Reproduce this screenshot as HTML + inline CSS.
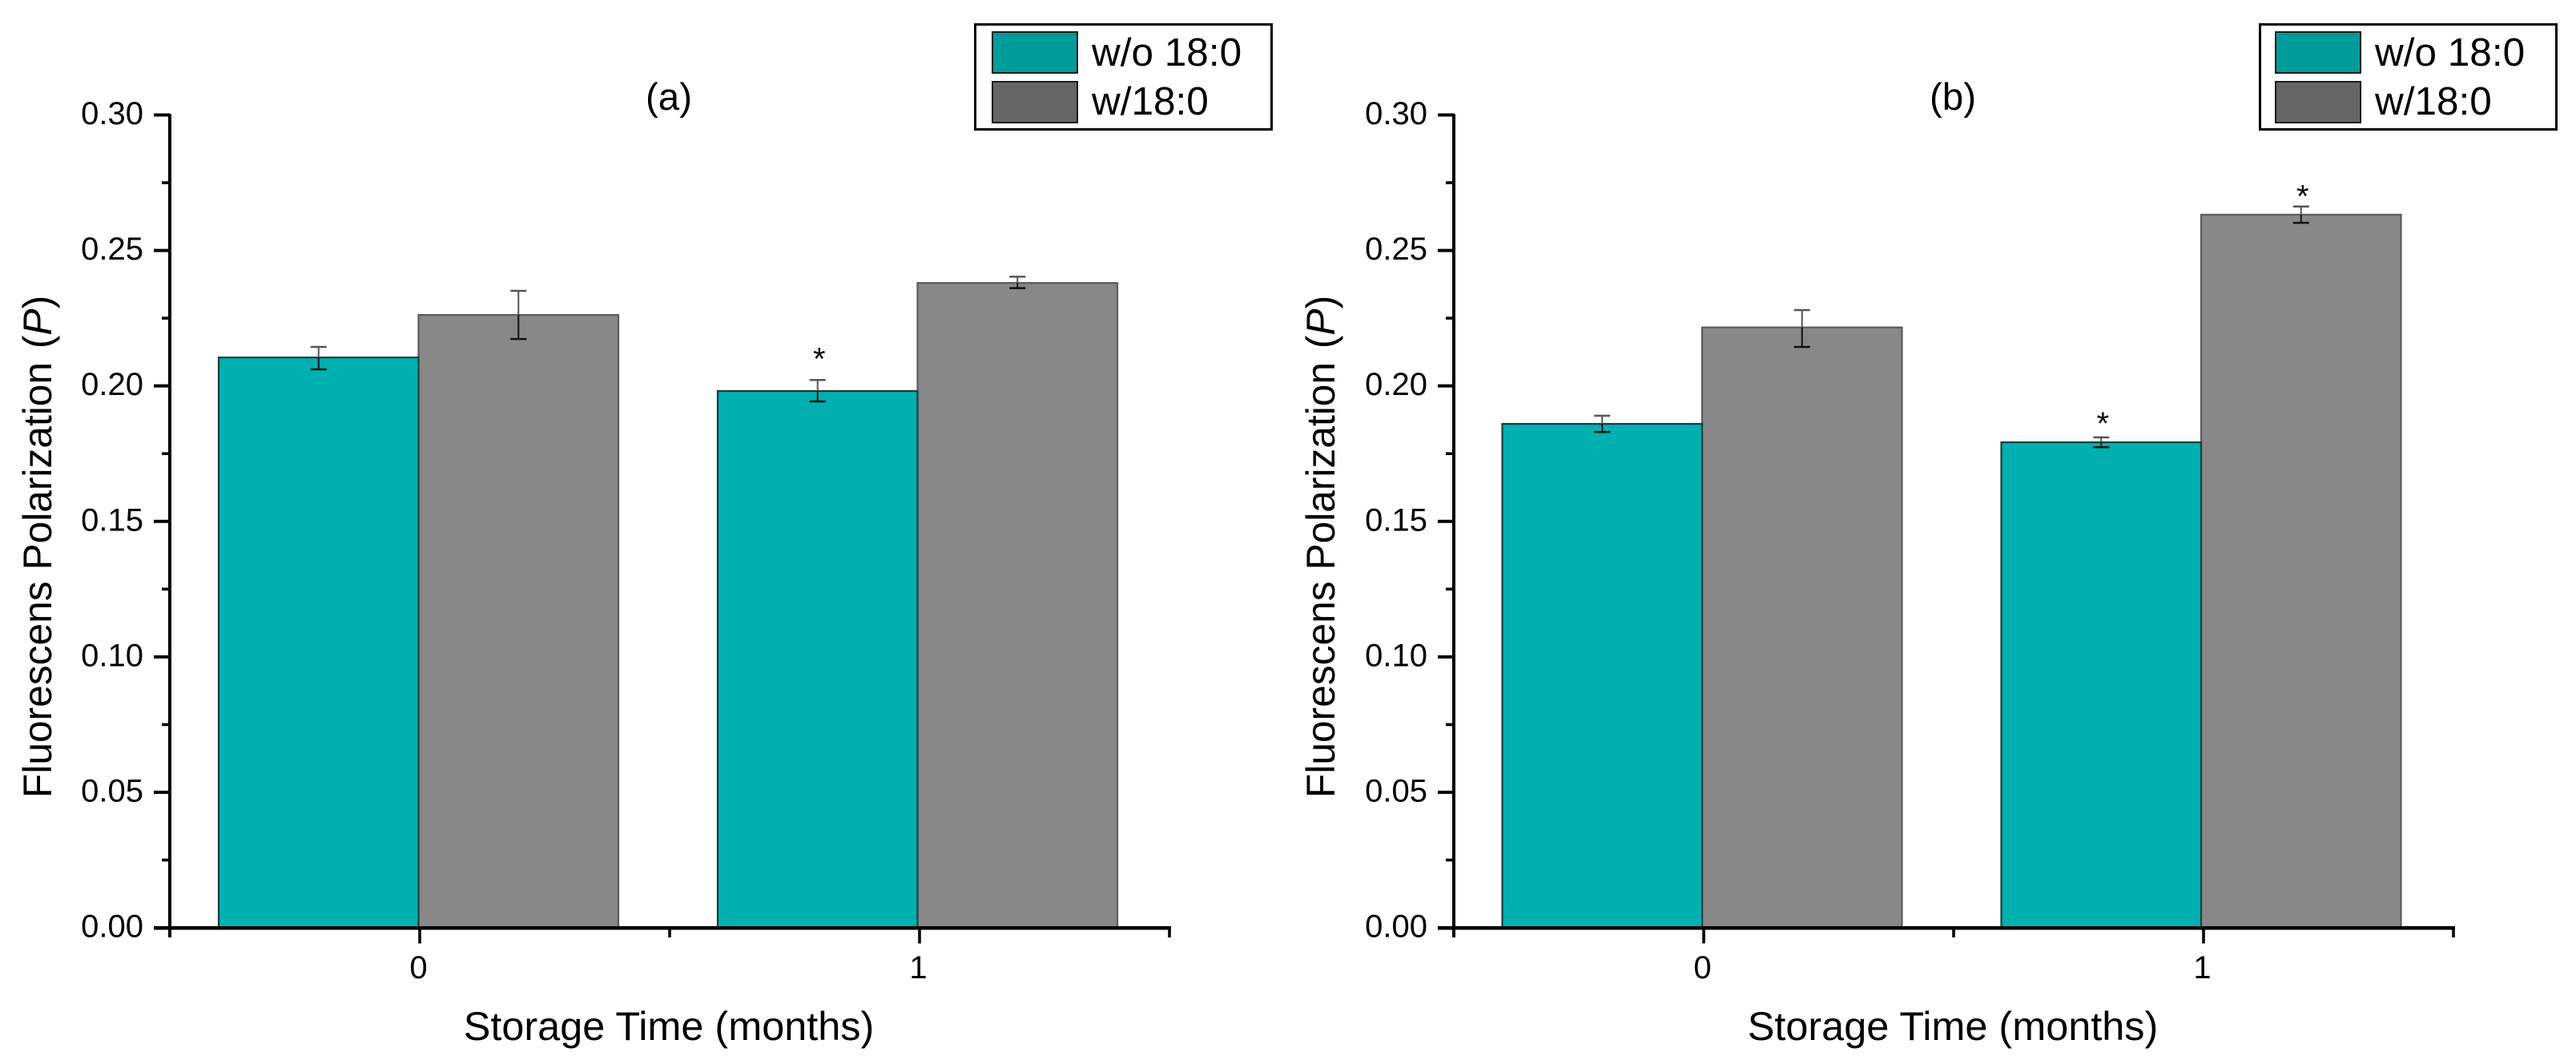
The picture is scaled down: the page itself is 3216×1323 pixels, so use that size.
<!DOCTYPE html>
<html lang="en">
<head>
<meta charset="utf-8">
<title>Fluorescence polarization charts</title>
<style>
html,body{margin:0;padding:0;background:#fff;width:3216px;height:1323px;overflow:hidden}
svg{display:block}
text{font-family:"Liberation Sans",Arial,sans-serif;fill:#000}
</style>
</head>
<body>
<svg id="figure" xmlns="http://www.w3.org/2000/svg" width="3216" height="1323" viewBox="0 0 3216 1323"></svg>
<script>
// Data
const categories = [0, 1];
const xTickLabels = ["0", "1"];
const xMinorTicks = [-0.5, 0.5, 1.5];
const yTickLabels = ["0.00", "0.05", "0.10", "0.15", "0.20", "0.25", "0.30"];
const yMinorTicks = [0.025, 0.075, 0.125, 0.175, 0.225, 0.275];
const seriesNames = ["w/o 18:0", "w/18:0"];

const panelATeal = [0.2105, 0.1981];
const panelATealErrHigh = [0.2144, 0.2022];
const panelATealErrLow = [0.2061, 0.1943];
const panelAGrey = [0.2262, 0.2380];
const panelAGreyErrHigh = [0.2351, 0.2403];
const panelAGreyErrLow = [0.2173, 0.2361];
const panelATealStars = [null, 0.2115];
const panelAGreyStars = [null, null];

const panelBTeal = [0.1860, 0.1792];
const panelBTealErrHigh = [0.1890, 0.1810];
const panelBTealErrLow = [0.1830, 0.1774];
const panelBGrey = [0.2216, 0.2632];
const panelBGreyErrHigh = [0.2280, 0.2662];
const panelBGreyErrLow = [0.2144, 0.2602];
const panelBTealStars = [null, 0.1877];
const panelBGreyStars = [null, 0.2714];

const NS = "http://www.w3.org/2000/svg";
const root = document.getElementById("figure");

function make(tag, attrs, parent, txt) {
  const el = document.createElementNS(NS, tag);
  for (const k in attrs) el.setAttribute(k, attrs[k]);
  if (txt !== undefined) el.textContent = txt;
  parent.appendChild(el);
  return el;
}

function drawPanel(p) {
  const g = make("g", {}, root);
  
  

  const yScale = v => 1158 - (v / 0.30) * 1014.5;
  const xScale = c => p.barCentre + c * 623;

  // bars (grey first so that the dark teal edge sits on the shared line)
  const series = [
    {key: 'without-18-0', vals: p.teal, hi: p.tealHi, lo: p.tealLo, stars: p.tealStars, off: -124.75, fill: '#00b0b0', stroke: '#14403f'},
    {key: 'with-18-0', vals: p.grey, hi: p.greyHi, lo: p.greyLo, stars: p.greyStars, off: 124.75, fill: '#888888', stroke: '#5c5c5c'}
  ];
  [series[1], series[0]].forEach(s => {
    categories.forEach((c, i) => {
      const top = yScale(s.vals[i]);
      const bar = make("rect", {x: xScale(c) + s.off - 124.75, y: top, width: 249.5, height: 1158 - top, fill: s.fill, stroke: s.stroke, "stroke-width": 2.2}, g);
      
      
    });
  });

  // error bars and significance stars
  series.forEach(s => {
    categories.forEach((c, i) => {
      const cx = xScale(c) + s.off;
      const eg = make("g", {}, g);
      
      
      const yH = yScale(s.hi[i]), yL = yScale(s.lo[i]), yV = yScale(s.vals[i]);
      make("line", {x1: cx, x2: cx, y1: yH, y2: yV, stroke: '#555', "stroke-width": 2}, eg);
      make("line", {x1: cx, x2: cx, y1: yV, y2: yL, stroke: '#111', "stroke-width": 2}, eg);
      make("line", {x1: cx - 10, x2: cx + 10, y1: yH, y2: yH, stroke: '#555', "stroke-width": 2.5}, eg);
      make("line", {x1: cx - 10, x2: cx + 10, y1: yL, y2: yL, stroke: '#111', "stroke-width": 2.5}, eg);
      if (s.stars[i] !== null) {
        const star = make("text", {x: cx + 2, y: yScale(s.stars[i]) + 18.5, "font-size": 40, "text-anchor": "middle"}, g, "*");
        
        
      }
    });
  });

  // y axis
  const yAxis = make("g", {}, g);
  
  
  make("line", {x1: p.axisX, x2: p.axisX, y1: 142, y2: 1170, stroke: '#000', "stroke-width": 4}, yAxis);
  yTickLabels.forEach(lbl => {
    const v = parseFloat(lbl), y = yScale(v);
    make("line", {x1: p.axisX - 20, x2: p.axisX, y1: y, y2: y, stroke: '#000', "stroke-width": 4}, yAxis);
    const t = make("text", {x: p.axisX - 33, y: y + 11.5, "font-size": 40, "text-anchor": "end"}, yAxis, lbl);
    
    
  });
  yMinorTicks.forEach(v => {
    const y = yScale(v);
    make("line", {x1: p.axisX - 10, x2: p.axisX, y1: y, y2: y, stroke: '#000', "stroke-width": 3.6}, yAxis);
  });

  // x axis
  const xAxis = make("g", {}, g);
  
  
  make("line", {x1: p.axisX - 20, x2: p.axisX + 1250, y1: 1158.3, y2: 1158.3, stroke: '#000', "stroke-width": 4.5}, xAxis);
  const tickX = c => p.axisX + 312 + c * 624;
  categories.forEach((c, i) => {
    make("line", {x1: tickX(c), x2: tickX(c), y1: 1158, y2: 1177.5, stroke: '#000', "stroke-width": 3.6}, xAxis);
    const t = make("text", {x: tickX(c) - 1.5, y: 1221, "font-size": 40, "text-anchor": "middle"}, xAxis, xTickLabels[i]);
    
    
  });
  xMinorTicks.forEach(c => {
    make("line", {x1: tickX(c), x2: tickX(c), y1: 1158, y2: 1170, stroke: '#000', "stroke-width": 3.6}, xAxis);
  });

  // titles
  const xTitle = make("text", {x: p.axisX + 623, y: 1298, "font-size": 50.4, "text-anchor": "middle"}, g, "Storage Time (months)");
  
  

  const yTitle = make("text", {x: p.yTitleX, y: 996, "font-size": 49.7, transform: "rotate(-90 " + p.yTitleX + " 996)"}, g, "Fluorescens Polarization ");
  
  
  make("tspan", {dx: 3}, yTitle, "(");
  make("tspan", {"font-style": "italic"}, yTitle, "P");
  make("tspan", {}, yTitle, ")");

  const pTitle = make("text", {x: p.titleX, y: 137, "font-size": 47.5, "text-anchor": "middle"}, g, p.title);
  
  

  // legend
  const leg = make("g", {}, g);
  
  
  make("rect", {x: p.legX + 1.5, y: 30.5, width: p.legW - 3, height: 131, fill: '#fff', stroke: '#000', "stroke-width": 3}, leg);
  const swatches = [['#009b9b', 39, 82], ['#666666', 101, 143]];
  swatches.forEach((s, i) => {
    const entry = make("g", {}, leg);
    
    
    make("rect", {x: p.swatchX + 1, y: s[1] + 1, width: 106, height: 51, fill: s[0], stroke: '#1c1c1c', "stroke-width": 2}, entry);
    make("text", {x: p.swatchX + 125, y: s[2], "font-size": 49.5}, entry, seriesNames[i]);
  });
}

drawPanel({
  id: 'a', title: '(a)', axisX: 212, barCentre: 522.5, yTitleX: 64, titleX: 835,
  legX: 1216, legW: 373, swatchX: 1238,
  teal: panelATeal, tealHi: panelATealErrHigh, tealLo: panelATealErrLow, tealStars: panelATealStars,
  grey: panelAGrey, greyHi: panelAGreyErrHigh, greyLo: panelAGreyErrLow, greyStars: panelAGreyStars
});
drawPanel({
  id: 'b', title: '(b)', axisX: 1815, barCentre: 2125, yTitleX: 1666, titleX: 2438,
  legX: 2820, legW: 373, swatchX: 2840,
  teal: panelBTeal, tealHi: panelBTealErrHigh, tealLo: panelBTealErrLow, tealStars: panelBTealStars,
  grey: panelBGrey, greyHi: panelBGreyErrHigh, greyLo: panelBGreyErrLow, greyStars: panelBGreyStars
});
</script>
</body>
</html>
